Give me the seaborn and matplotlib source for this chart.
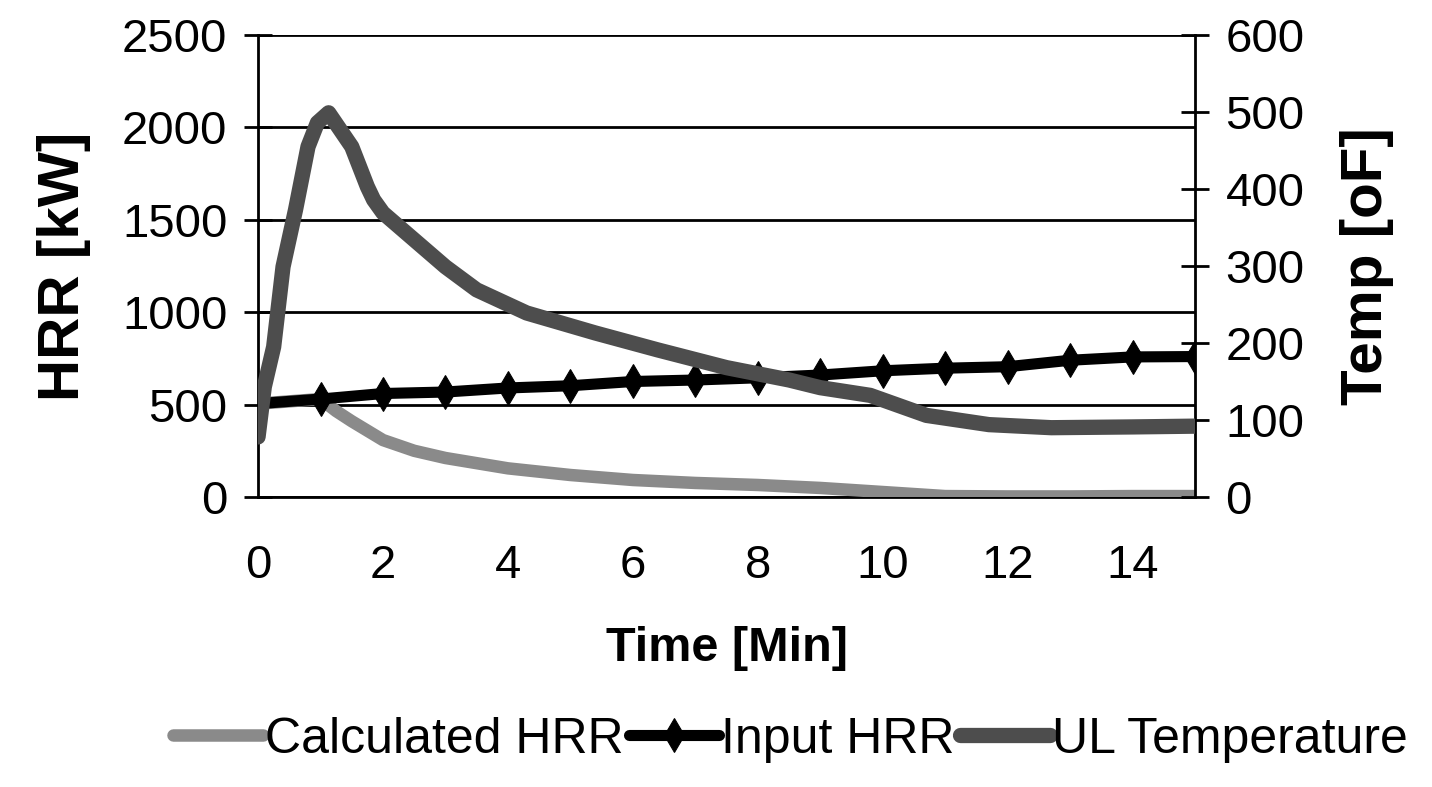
import numpy as np
import pandas as pd
import matplotlib.pyplot as plt
import seaborn as sns

# --- data ---
# Calculated HRR [kW]
calc_time = [0, 1, 1.25, 1.5, 2, 2.5, 3, 4, 5, 6, 7, 8, 9, 10, 11, 12, 13, 14, 15]
calc_hrr = [505, 530, 465, 410, 308, 250, 211, 155, 119, 92, 76, 65, 49, 27, 5, 3, 3, 5, 5]

# Input HRR [kW], one point per minute
input_time = list(range(0, 16))
input_hrr = [505, 530, 560, 568, 590, 602, 625, 633, 645, 660, 683, 697, 705, 740, 758, 760]

# Upper layer temperature [oF]
ul_time = [0, 0.1, 0.25, 0.4, 0.6, 0.8, 0.95, 1.13, 1.5, 1.75, 1.85, 2, 2.5, 3, 3.5,
           4.3, 5.4, 6.4, 7.5, 8.5, 9, 9.8, 10.7, 11.7, 12.7, 14, 15]
ul_temp = [78, 143, 195, 299, 373, 455, 486, 499, 455, 403, 386, 369, 334, 299, 269,
           239, 213, 191, 168, 152, 142, 132, 106, 94, 90, 91, 92]

hrr_ticks = [0, 500, 1000, 1500, 2000, 2500]
temp_ticks = [0, 100, 200, 300, 400, 500, 600]
time_ticks = [0, 2, 4, 6, 8, 10, 12, 14]

sns.set_style("white")
plt.rcParams['font.family'] = ['Liberation Sans', 'DejaVu Sans']
plt.rcParams['text.color'] = 'black'
plt.rcParams['axes.labelcolor'] = 'black'
plt.rcParams['xtick.color'] = 'black'
plt.rcParams['ytick.color'] = 'black'

fig, ax = plt.subplots(figsize=(14.32, 7.87), dpi=100)
fig.subplots_adjust(left=0.1802, right=0.8345, bottom=0.3685, top=0.9555)

sns.lineplot(x=calc_time, y=calc_hrr, ax=ax, color='#8a8a8a', linewidth=9,
             label='Calculated HRR', legend=False, zorder=3)
sns.lineplot(x=input_time, y=input_hrr, ax=ax, color='black', linewidth=8,
             marker='d', markersize=17, markeredgecolor='black',
             label='Input HRR', legend=False, zorder=4)

ax2 = ax.twinx()
sns.lineplot(x=ul_time, y=ul_temp, ax=ax2, color='#4d4d4d', linewidth=11,
             label='UL Temperature', legend=False, zorder=3)

# axes limits / ticks
ax.set_xlim(0, 15)
ax.set_ylim(0, 2500)
ax2.set_ylim(0, 600)
ax.set_xticks(time_ticks)
ax.set_yticks(hrr_ticks)
ax2.set_yticks(temp_ticks)

ax.grid(axis='y', color='black', linewidth=2)
ax.grid(axis='x', visible=False)

for a in (ax, ax2):
    for s in a.spines.values():
        s.set_visible(False)
ax.spines['left'].set_visible(True)
ax.spines['bottom'].set_visible(True)
ax2.spines['right'].set_visible(True)
for s in (ax.spines['left'], ax.spines['bottom'], ax2.spines['right']):
    s.set_color('black')
    s.set_linewidth(2)

ax.tick_params(axis='y', direction='inout', length=20, width=2, labelsize=34, pad=12)
ax.tick_params(axis='x', direction='out', length=14, width=2, labelsize=34, pad=20)
ax2.tick_params(axis='y', direction='inout', length=20, width=2, labelsize=34, pad=12)

ax.set_xlabel('Time [Min]', fontsize=35, fontweight='bold')
ax.set_ylabel('HRR [kW]', fontsize=42, fontweight='bold')
ax2.set_ylabel('Temp [oF]', fontsize=42, fontweight='bold')
ax.xaxis.set_label_coords(0.5, -0.28)
ax.yaxis.set_label_coords(-0.178, 0.5)
ax2.yaxis.set_label_coords(1.155, 0.5)

h1, l1 = ax.get_legend_handles_labels()
h2, l2 = ax2.get_legend_handles_labels()
fig.legend(h1 + h2, l1 + l2, loc='center', bbox_to_anchor=(0.552, 0.06), ncol=3,
           frameon=False, fontsize=36, handlelength=1.8, handletextpad=0.05,
           columnspacing=0.1)

fig.savefig('out.png', dpi=100)
